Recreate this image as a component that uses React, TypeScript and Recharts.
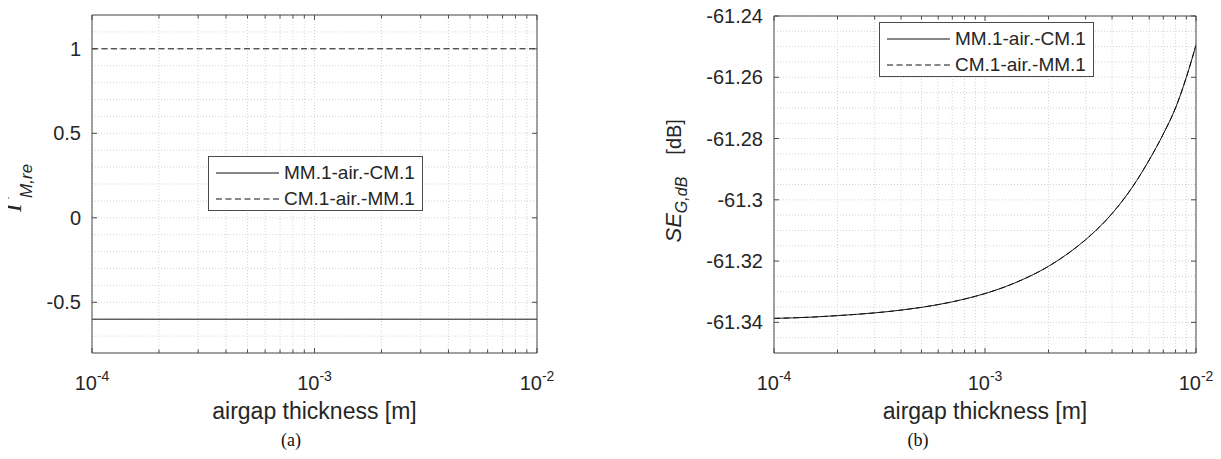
import { LineChart, Line, XAxis, YAxis, CartesianGrid, Legend } from 'recharts'

// airgap thickness [m] and the series
const thickness = [1e-4, 1e-3, 1e-2]
const gammaMmCm = [-0.6, -0.6, -0.6]
const gammaCmMm = [1, 1, 1]

const seThickness = [
  1e-4, 1.5e-4, 2e-4, 3e-4, 4e-4, 5e-4, 6e-4, 7e-4, 8e-4, 9e-4, 1e-3,
  1.5e-3, 2e-3, 2.5e-3, 3e-3, 4e-3, 5e-3, 6e-3, 7e-3, 8e-3, 9e-3, 1e-2,
]
const seMmCm = [
  -61.3387, -61.3383, -61.3378, -61.3369, -61.336, -61.3351, -61.3342, -61.3333, -61.3324,
  -61.3315, -61.3306, -61.3261, -61.3217, -61.3173, -61.313, -61.3045, -61.2958, -61.287,
  -61.2785, -61.27, -61.26, -61.2495,
]
// both directions give the same shielding, the dashed curve sits on the solid one
const seCmMm = seMmCm

const xMajorTicks = [1e-4, 1e-3, 1e-2]
const xMinorTicks = [2e-4, 3e-4, 4e-4, 5e-4, 6e-4, 7e-4, 8e-4, 9e-4, 2e-3, 3e-3, 4e-3, 5e-3, 6e-3, 7e-3, 8e-3, 9e-3]
const gammaTicks = [-0.5, 0, 0.5, 1]
const gammaGrid = [-0.8, -0.7, -0.6, -0.5, -0.4, -0.3, -0.2, -0.1, 0, 0.1, 0.2, 0.3, 0.4, 0.5, 0.6, 0.7, 0.8, 0.9, 1, 1.1, 1.2]
const seTicks = [-61.34, -61.32, -61.3, -61.28, -61.26, -61.24]
const seGrid = [
  -61.35, -61.345, -61.34, -61.335, -61.33, -61.325, -61.32, -61.315, -61.31, -61.305, -61.3,
  -61.295, -61.29, -61.285, -61.28, -61.275, -61.27, -61.265, -61.26, -61.255, -61.25, -61.245, -61.24,
]
const seriesNames = ['MM.1-air.-CM.1', 'CM.1-air.-MM.1']
const seriesDash = ['', '6 3.5']

const gammaData = thickness.map((d, i) => ({ d, mm: gammaMmCm[i], cm: gammaCmMm[i] }))
const seData = seThickness.map((d, i) => ({ d, mm: seMmCm[i], cm: seCmMm[i] }))

const SANS = '"Liberation Sans", Arial, sans-serif'
const INK = '#262626'
const BOX = '#4a4a4a'
const GRID = '#d4d4d4'

const fmt = (v: number) => String(Number(v.toFixed(2)))
const isMajor = (v: number) => xMajorTicks.some((m) => Math.abs(m - v) / m < 1e-6)

// dir 1: bottom axis (tick goes up into the box), -1: top axis
const xTick = (dir: 1 | -1) => (p: any) => {
  const { x, y, payload } = p
  const major = isMajor(payload.value)
  const len = major ? 5 : 3.5
  const exp = Math.round(Math.log10(payload.value))
  return (
    <g>
      <line x1={x} x2={x} y1={y} y2={y - dir * len} stroke={BOX} />
      {major && dir === 1 && (
        <text x={x} y={y + 37} textAnchor="middle" fontFamily={SANS} fontSize={20} fill={INK}>
          10
          <tspan dy={-9} fontSize={14}>
            {exp}
          </tspan>
        </text>
      )}
    </g>
  )
}

const yTick = (dir: 1 | -1) => (p: any) => {
  const { x, y, payload } = p
  return (
    <g>
      <line x1={x} x2={x + dir * 5} y1={y} y2={y} stroke={BOX} />
      {dir === 1 && (
        <text x={x - 11} y={y + 7} textAnchor="end" fontFamily={SANS} fontSize={20} fill={INK}>
          {fmt(payload.value)}
        </text>
      )}
    </g>
  )
}

const xTitle = ({ viewBox }: any) => (
  <text
    x={viewBox.x + viewBox.width / 2}
    y={viewBox.y + 66}
    textAnchor="middle"
    fontFamily={SANS}
    fontSize={23}
    fill={INK}
  >
    airgap thickness [m]
  </text>
)

const gammaTitle = ({ viewBox }: any) => {
  const cx = viewBox.x + viewBox.width - 71
  const cy = viewBox.y + viewBox.height / 2 + 4
  return (
    <text x={cx} y={cy} transform={`rotate(-90 ${cx} ${cy})`} textAnchor="middle" fill={INK}>
      <tspan fontFamily='"Liberation Serif", serif' fontStyle="italic" fontSize={25}>
        Γ
      </tspan>
      <tspan dy={11} fontFamily={SANS} fontStyle="italic" fontSize={17}>
        M,re
      </tspan>
    </text>
  )
}

// text runs bottom to top, starting at the lower end of the label
const seTitle = ({ viewBox }: any) => {
  const cx = viewBox.x + viewBox.width - 93
  const cy = viewBox.y + viewBox.height / 2 + 58
  return (
    <text x={cx} y={cy} transform={`rotate(-90 ${cx} ${cy})`} textAnchor="start" fontFamily={SANS} fill={INK}>
      <tspan fontStyle="italic" fontSize={22}>
        SE
      </tspan>
      <tspan dy={6} fontStyle="italic" fontSize={16}>
        G,dB
      </tspan>
      <tspan dy={-6} dx={22} fontSize={20}>
        [dB]
      </tspan>
    </text>
  )
}

const legendBox = () => (
  <div
    style={{
      width: 213,
      height: 53,
      border: `1px solid ${BOX}`,
      background: '#fff',
      fontFamily: SANS,
      fontSize: 19,
      color: INK,
    }}
  >
    {seriesNames.map((name, i) => (
      <div key={name} style={{ display: 'flex', alignItems: 'center', height: 26, marginTop: i === 0 ? 3 : 0 }}>
        <svg width={75} height={26}>
          <line x1={7} x2={70} y1={13} y2={13} stroke="#111" strokeDasharray={seriesDash[i] || undefined} />
        </svg>
        <span style={{ whiteSpace: 'nowrap' }}>{name}</span>
      </div>
    ))}
  </div>
)

interface PanelProps {
  data: { d: number; mm: number; cm: number }[]
  left: number
  width: number
  margin: { top: number; right: number; bottom: number; left: number }
  yDomain: [number, number]
  yTicks: number[]
  yGrid: number[]
  yTitle: (p: any) => any
  legendPos: { left: number; top: number }
}

function Panel({ data, left, width, margin, yDomain, yTicks, yGrid, yTitle, legendPos }: PanelProps) {
  const xCommon = {
    dataKey: 'd',
    type: 'number' as const,
    scale: 'log' as const,
    domain: [1e-4, 1e-2],
    allowDataOverflow: true,
    height: 1,
    tickSize: 0,
    tickMargin: 0,
    interval: 0 as const,
    ticks: [...xMajorTicks, ...xMinorTicks],
    axisLine: { stroke: BOX },
    tickLine: false,
  }
  const yCommon = {
    type: 'number' as const,
    domain: yDomain,
    allowDataOverflow: true,
    width: 1,
    tickSize: 0,
    tickMargin: 0,
    ticks: yTicks,
    interval: 0 as const,
    axisLine: { stroke: BOX },
    tickLine: false,
  }
  return (
    <div style={{ position: 'absolute', left, top: 0 }}>
      <LineChart width={width} height={459} data={data} margin={margin}>
        <CartesianGrid
          stroke={GRID}
          strokeDasharray="1 2"
          verticalValues={[...xMinorTicks, ...xMajorTicks]}
          horizontalValues={yGrid}
        />
        <XAxis {...xCommon} xAxisId={0} orientation="bottom" tick={xTick(1)} label={{ content: xTitle }} />
        <XAxis {...xCommon} xAxisId="top" orientation="top" tick={xTick(-1)} />
        <YAxis {...yCommon} yAxisId={0} orientation="left" tick={yTick(1)} label={{ content: yTitle }} />
        <YAxis {...yCommon} yAxisId="right" orientation="right" tick={yTick(-1)} />
        <Legend
          layout="vertical"
          align="center"
          verticalAlign="middle"
          content={legendBox}
          wrapperStyle={{ left: legendPos.left, top: legendPos.top, width: 'auto', height: 'auto' }}
        />
        <Line
          type="monotone"
          dataKey="mm"
          name={seriesNames[0]}
          stroke="#1a1a1a"
          strokeWidth={1}
          dot={false}
          isAnimationActive={false}
        />
        <Line
          type="monotone"
          dataKey="cm"
          name={seriesNames[1]}
          stroke="#111"
          strokeWidth={1}
          strokeDasharray={seriesDash[1]}
          dot={false}
          isAnimationActive={false}
        />
      </LineChart>
    </div>
  )
}

const captionStyle = {
  position: 'absolute' as const,
  top: 430,
  width: 40,
  textAlign: 'center' as const,
  fontFamily: '"Liberation Serif", "Times New Roman", serif',
  fontSize: 18,
  color: '#111',
}

export default function App() {
  return (
    <div style={{ position: 'relative', width: 1221, height: 459, margin: -8, background: '#fff', overflow: 'hidden' }}>
      <Panel
        data={gammaData}
        left={0}
        width={610}
        margin={{ top: 14, right: 72, bottom: 105, left: 91 }}
        yDomain={[-0.8, 1.2]}
        yTicks={gammaTicks}
        yGrid={gammaGrid}
        yTitle={gammaTitle}
        legendPos={{ left: 208, top: 156 }}
      />
      <Panel
        data={seData}
        left={610}
        width={611}
        margin={{ top: 15, right: 24, bottom: 105, left: 163 }}
        yDomain={[-61.35, -61.24]}
        yTicks={seTicks}
        yGrid={seGrid}
        yTitle={seTitle}
        legendPos={{ left: 269, top: 22 }}
      />
      <div style={{ ...captionStyle, left: 271 }}>(a)</div>
      <div style={{ ...captionStyle, left: 898 }}>(b)</div>
    </div>
  )
}
